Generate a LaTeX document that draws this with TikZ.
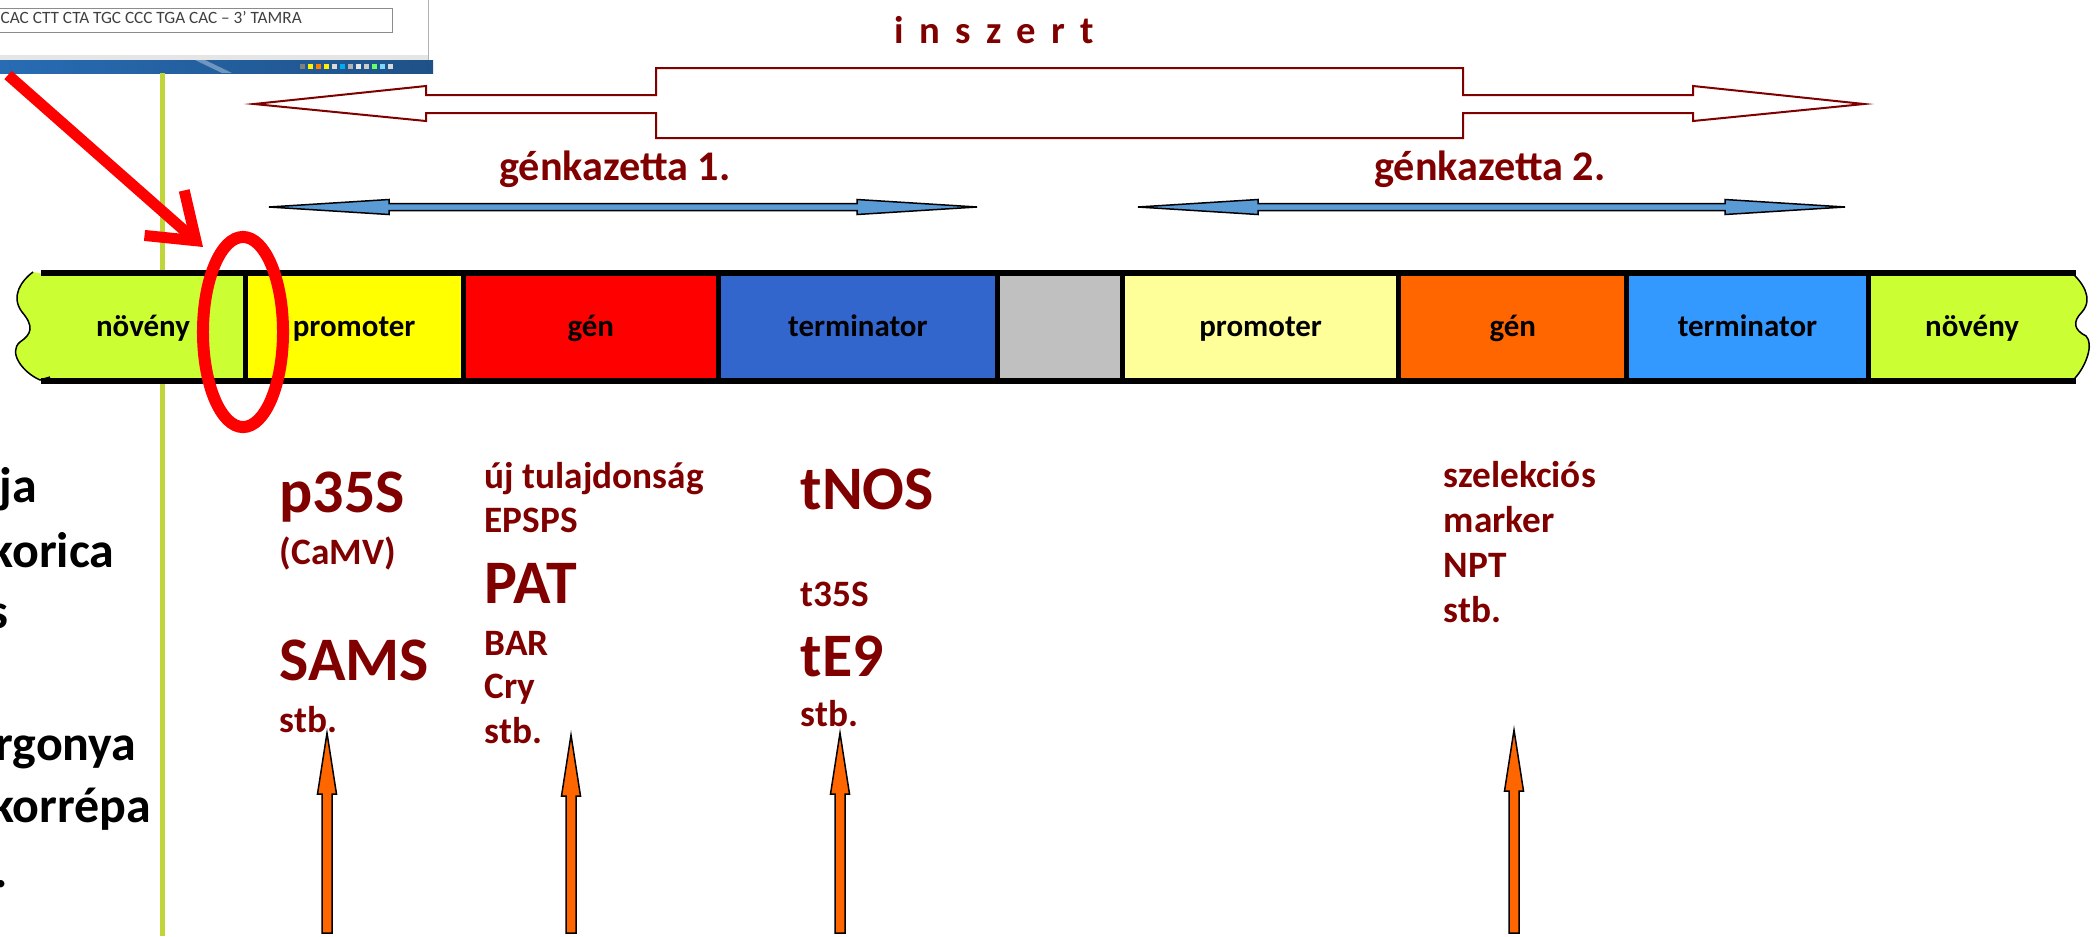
\documentclass[tikz,border=0pt]{standalone}
\usepackage{fontspec}
\setmainfont{Carlito}
\usetikzlibrary{positioning,shapes.geometric,arrows.meta}
\definecolor{darkred}{RGB}{128,0,0}
\definecolor{novcol}{RGB}{204,255,51}
\definecolor{promcol}{RGB}{255,255,0}
\definecolor{gencol}{RGB}{255,0,0}
\definecolor{termcol}{RGB}{51,102,204}
\definecolor{spacecol}{RGB}{192,192,192}
\definecolor{promcolb}{RGB}{255,255,153}
\definecolor{gencolb}{RGB}{255,102,0}
\definecolor{termcolb}{RGB}{51,153,255}
\definecolor{linegreen}{RGB}{192,214,56}
\definecolor{cassblue}{RGB}{91,155,213}
\definecolor{taskblue}{RGB}{40,108,180}
\tikzset{
  seg/.style = {fill=#1, inner sep=0, outer sep=0, minimum height=1.07cm,
                text height=0.23cm, text depth=0.05cm,
                font=\bfseries\fontsize{8.8}{10}\selectfont},
  {barline/.style} = {line width=0.06cm, black},
  {divider/.style} = {line width=0.05cm, black},
  {wave/.style} = {line width=0.015cm, black},
  lbl/.style = {text=darkred, inner sep=0, anchor=base west,
                font=\bfseries\fontsize{10.6}{12}\selectfont},
  biglbl/.style = {lbl, font=\bfseries\fontsize{17.6}{20}\selectfont},
  kazlbl/.style = {text=darkred, inner sep=0, anchor=base,
                font=\bfseries\fontsize{12}{14}\selectfont},
  croplbl/.style = {inner sep=0, anchor=base east,
                font=\bfseries\fontsize{14.2}{16}\selectfont},
  shot/.style = {inner sep=0, anchor=base west, text=black!75,
                font=\fontsize{4.9}{6}\selectfont},
  insertarrow/.style = {draw=darkred, line width=0.02cm, fill=white},
  bluearrow/.style = {draw=black, fill=cassblue, line width=0.015cm},
  orangearrow/.style = {draw=black, fill=gencolb, line width=0.015cm},
  ring/.style = {ellipse, draw=red, line width=0.12cm, inner sep=0,
                 minimum width=0.8cm, minimum height=1.9cm},
  pointer/.style = {red, line width=0.11cm,
                    -{Straight Barb[length=0.42cm,width=0.6cm]}},
}
\begin{document}
\begin{tikzpicture}[x=0.01cm,y=-0.01cm]
\useasboundingbox (0,0) rectangle (2098,936);

% corner of the screen shot
\draw[black!45, line width=0.008cm] (0,8) -- (392,8) -- (392,32) -- (0,32);
\node[shot] (seq) at (0,23) {CAC CTT CTA TGC CCC TGA CAC – 3’ TAMRA};
\fill[black!10] (0,55) rectangle (428,60);
\draw[black!30, line width=0.01cm] (428,0) -- (428,60);
\shade[left color=taskblue, right color=taskblue!75!black] (0,60) rectangle (433,73);
\fill[white, opacity=.35] (195,60) -- (205,60) -- (232,73) -- (222,73) -- cycle;
\foreach \i/\c in {0/gray,1/yellow,2/orange,3/yellow,4/gray!30,5/cyan,6/gray!60,7/gray!20,8/gray!40,9/green!60,10/cyan!50,11/gray!30}
  \fill[\c] ({300+\i*8},64) rectangle ++(5,5);

% green divider of the slide
\draw[linegreen, line width=0.05cm] (162,73) -- (162,936);

% cropped plant list
\begin{scope}
\clip (0,73) rectangle (158,936);
\node[croplbl] (l1) at (38,502) {ja};
\node[croplbl] (l2) at (115,567) {korica};
\node[croplbl] (l3) at (9,628) {s};
\node[croplbl] (l4) at (137,760) {rgonya};
\node[croplbl] (l5) at (152,822) {korrépa};
\node[croplbl] (l6) at (9,887) {.};
\end{scope}

% inszert
\node[kazlbl, anchor=base west, font=\bfseries\fontsize{11}{13}\selectfont] (ins) at (894,43)
  {\addfontfeatures{LetterSpace=40}inszert};
\filldraw[insertarrow] (254,104) -- (426,86) -- (426,95) -- (656,95) -- (656,68)
  -- (1463,68) -- (1463,95) -- (1693,95) -- (1693,86) -- (1864,104)
  -- (1693,121) -- (1693,113) -- (1463,113) -- (1463,138) -- (656,138)
  -- (656,113) -- (426,113) -- (426,121) -- cycle;

% gene cassettes
\node[kazlbl] (kaz1) at (615,180) {génkazetta 1.};
\node[kazlbl] (kaz2) at (1490,180) {génkazetta 2.};
\foreach \a/\b in {269/977,1138/1845}
  \filldraw[bluearrow] (\a,207) -- ({\a+120},199.5) -- ({\a+120},203.5)
    -- ({\b-120},203.5) -- ({\b-120},199.5) -- (\b,207) -- ({\b-120},214.5)
    -- ({\b-120},210.5) -- ({\a+120},210.5) -- ({\a+120},214.5) -- cycle;

% the construct
\node[seg=novcol, minimum width=2.04cm] (nov1) at (143,327) {növény};
\node[seg=promcol, minimum width=2.18cm, right=0pt of nov1] (prom1) {promoter};
\node[seg=gencol, minimum width=2.55cm, right=0pt of prom1] (gen1) {gén};
\node[seg=termcol, minimum width=2.79cm, right=0pt of gen1] (term1) {terminator};
\node[seg=spacecol, minimum width=1.25cm, right=0pt of term1] (spacer) {};
\node[seg=promcolb, minimum width=2.76cm, right=0pt of spacer] (prom2) {promoter};
\node[seg=gencolb, minimum width=2.28cm, right=0pt of prom2] (gen2) {gén};
\node[seg=termcolb, minimum width=2.41cm, right=0pt of gen2] (term2) {terminator};
\node[seg=novcol, minimum width=2.08cm, right=0pt of term2] (nov2) {növény};

% torn ends
\fill[novcol] (41,273.5) -- (33,272) .. controls (22,280) and (10,296) .. (22,312)
  .. controls (34,326) and (32,334) .. (20,342) .. controls (8,352) and (22,372) .. (40,380)
  -- (41,380.5) -- cycle;
\draw[wave] (33,272) .. controls (22,280) and (10,296) .. (22,312)
  .. controls (34,326) and (32,334) .. (20,342) .. controls (8,352) and (22,372) .. (40,380)
  -- (50,377);
\fill[novcol] (2075,273.5) -- (2071,272) .. controls (2082,282) and (2094,298) .. (2082,312)
  .. controls (2072,322) and (2074,330) .. (2086,336) .. controls (2094,344) and (2086,366) .. (2075,378)
  -- (2075,380.5) -- cycle;
\draw[wave] (2071,272) .. controls (2082,282) and (2094,298) .. (2082,312)
  .. controls (2072,322) and (2074,330) .. (2086,336) .. controls (2094,344) and (2086,366) .. (2075,378);

\draw[barline] (nov1.north west) -- (nov2.north east);
\draw[barline] (nov1.south west) -- (nov2.south east);
\foreach \n in {prom1,gen1,term1,spacer,prom2,gen2,term2,nov2}
  \draw[divider] (\n.north west) -- (\n.south west);

% where the insert meets the plant DNA
\node[ring] (mark) at (243,332) {};
\coordinate (pointfrom) at (8,75);
\coordinate (pointto) at (203,247);
\draw[pointer] (pointfrom) -- (pointto);

% examples
\node[biglbl] (p35s) at (279,512) {p35S};
\node[lbl] (camv) at (279,564) {(CaMV)};
\node[biglbl] (sams) at (279,680) {SAMS};
\node[lbl] (stba) at (279,732) {stb.};

\node[lbl] (uj) at (484,488) {új tulajdonság};
\node[lbl] (epsps) at (484,532) {EPSPS};
\node[biglbl] (pat) at (484,603) {PAT};
\node[lbl] (bar) at (484,655) {BAR};
\node[lbl] (cry) at (484,698) {Cry};
\node[lbl] (stbb) at (484,743) {stb.};

\node[biglbl] (tnos) at (800,509) {tNOS};
\node[lbl] (t35s) at (800,606) {t35S};
\node[biglbl] (te9) at (800,676) {tE9};
\node[lbl] (stbc) at (800,726) {stb.};

\node[lbl] (szel) at (1443,487) {szelekciós};
\node[lbl] (marker) at (1443,532) {marker};
\node[lbl] (npt) at (1443,577) {NPT};
\node[lbl] (stbd) at (1443,622) {stb.};

\foreach \x/\y in {327/733,571/735,840/733,1514/730}
  \filldraw[orangearrow] (\x,\y) -- ({\x+9.5},{\y+61}) -- ({\x+5},{\y+61})
    -- ({\x+5},933) -- ({\x-5},933) -- ({\x-5},{\y+61}) -- ({\x-9.5},{\y+61}) -- cycle;
\end{tikzpicture}
\end{document}
